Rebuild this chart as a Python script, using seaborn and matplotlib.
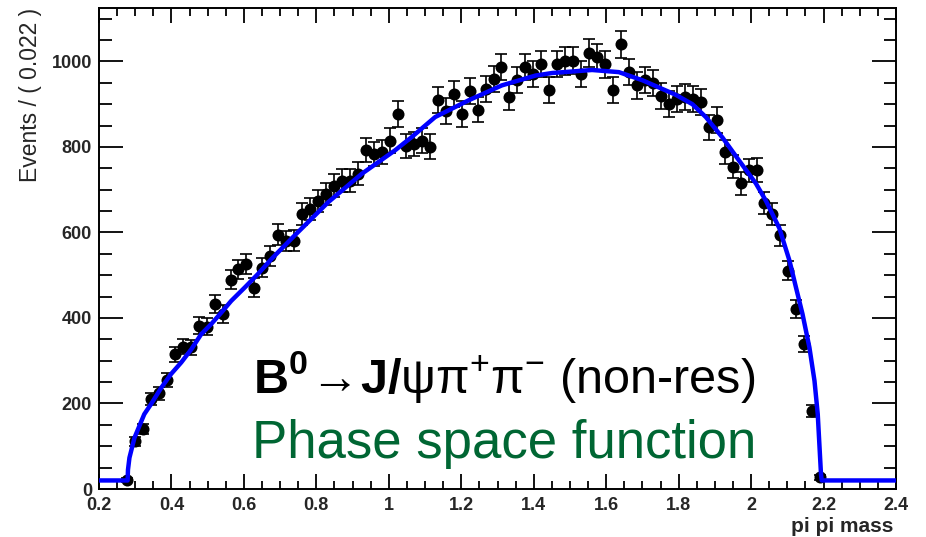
import numpy as np
import matplotlib
matplotlib.use("Agg")
import matplotlib.pyplot as plt
from matplotlib.ticker import MultipleLocator
import seaborn as sns

# histogram: bins of 0.022 starting at 0.2, filled bins 3..90
bin_width = 0.022
first_bin = 3
counts = [21, 112, 141, 210, 224, 255, 315, 333, 331, 382,
          380, 432, 409, 489, 514, 526, 471, 518, 546, 595,
          580, 581, 643, 655, 674, 690, 709, 721, 721, 737,
          792, 784, 788, 815, 877, 803, 807, 815, 801, 909,
          884, 924, 877, 930, 887, 936, 959, 987, 916, 957,
          987, 971, 994, 934, 994, 1001, 1002, 971, 1020, 1010,
          993, 934, 1040, 975, 944, 956, 949, 920, 901, 912,
          916, 912, 905, 846, 863, 788, 754, 715, 745, 746,
          668, 643, 593, 511, 421, 339, 183, 27]

# phase space fit curve
curve_x = [0.200, 0.279, 0.280, 0.284, 0.298, 0.325, 0.344, 0.372, 0.399, 0.427,
           0.455, 0.482, 0.510, 0.538, 0.565, 0.602, 0.639, 0.676, 0.740, 0.833,
           0.925, 1.017, 1.063, 1.128, 1.220, 1.312, 1.405, 1.451, 1.561, 1.635,
           1.700, 1.792, 1.838, 1.875, 1.921, 1.967, 2.013, 2.041, 2.078, 2.106,
           2.124, 2.142, 2.161, 2.175, 2.184, 2.193, 2.195, 2.400]
curve_y = [20, 20, 45, 73, 120, 175, 199, 237, 269, 296,
           327, 362, 386, 413, 440, 471, 503, 538, 593, 671,
           737, 792, 823, 870, 909, 944, 967, 973, 980, 975,
           956, 922, 900, 870, 822, 768, 715, 674, 610, 534,
           471, 409, 331, 253, 175, 34, 20, 20]

centers = 0.2 + bin_width * (np.arange(first_bin, first_bin + len(counts)) + 0.5)
counts = np.array(counts, dtype=float)
errs = np.sqrt(counts)

sns.set_style("ticks")
plt.rcParams['font.family'] = ['Liberation Sans', 'DejaVu Sans']
plt.rcParams['mathtext.fontset'] = 'custom'
plt.rcParams['mathtext.rm'] = 'Liberation Sans'
plt.rcParams['mathtext.it'] = 'Liberation Sans:italic'
plt.rcParams['mathtext.bf'] = 'Liberation Sans:bold'

fig = plt.figure(figsize=(9.26, 5.37), dpi=100)
ax = fig.add_axes([99 / 926, 48 / 537, 797 / 926, 481 / 537])

ax.errorbar(centers, counts, yerr=errs, fmt='none', ecolor='black',
            elinewidth=1.2, capsize=4, capthick=1.2, zorder=2)
sns.scatterplot(x=centers, y=counts, color='black', s=75, edgecolor='black',
                linewidth=0, ax=ax, zorder=3)
sns.lineplot(x=curve_x, y=curve_y, color='#0000ff', linewidth=3.2,
             sort=False, estimator=None, ax=ax, zorder=4)

ax.set_xlim(0.2, 2.4)
ax.set_ylim(0, 1125)
ax.xaxis.set_major_locator(MultipleLocator(0.2))
ax.xaxis.set_minor_locator(MultipleLocator(0.05))
ax.yaxis.set_major_locator(MultipleLocator(200))
ax.yaxis.set_minor_locator(MultipleLocator(50))
ax.xaxis.set_major_formatter(matplotlib.ticker.FuncFormatter(
    lambda v, p: '%d' % round(v) if abs(v - round(v)) < 1e-6 else '%.1f' % v))

ax.tick_params(axis='both', which='both', direction='in', top=True, right=True,
               width=1.3, color='black')
ax.tick_params(axis='x', which='major', length=11, pad=6)
ax.tick_params(axis='x', which='minor', length=5.5)
ax.tick_params(axis='y', which='major', length=17, pad=5)
ax.tick_params(axis='y', which='minor', length=9)
for lab in ax.get_xticklabels() + ax.get_yticklabels():
    lab.set_fontweight('bold')
    lab.set_fontsize(13)
for sp in ax.spines.values():
    sp.set_linewidth(1.4)
    sp.set_color('black')

ax.set_xlabel('')
ax.set_ylabel('')
fig.text(30 / 926, 1 - 8 / 537, 'Events / ( 0.022 )', rotation=90,
         ha='center', va='top', fontsize=16.5)
fig.text(893 / 926, 1 - 526 / 537, 'pi pi mass', ha='right', va='center',
         fontsize=15, fontweight='bold')

ax.text(0.508, 0.2,
        r'$\mathbf{B}^{\mathbf{0}}\!\rightarrow\!\mathbf{J/}\mathrm{\psi}\mathrm{\pi}^{+}\mathrm{\pi}^{-}$ (non-res)',
        transform=ax.transAxes, ha='center', va='baseline', fontsize=35, color='black')
ax.text(0.508, 0.065, 'Phase space function', transform=ax.transAxes,
        ha='center', va='baseline', fontsize=38, color='#006633')

fig.savefig('out.png', dpi=100, facecolor='white')
